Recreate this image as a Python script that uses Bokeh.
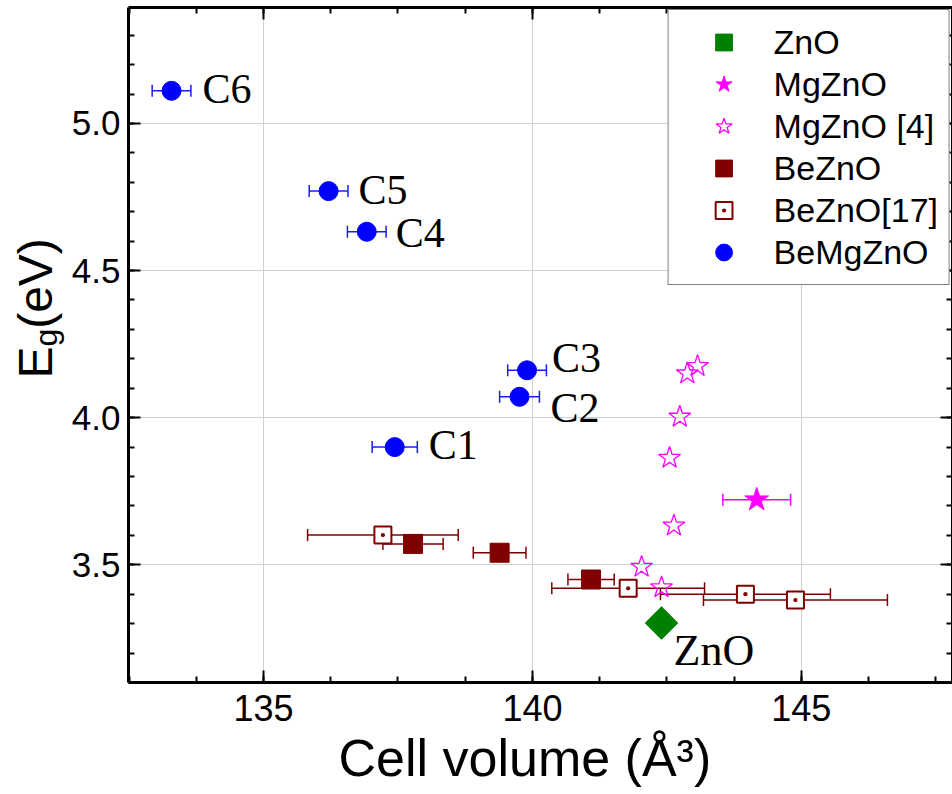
import numpy as np
from bokeh.plotting import figure
from bokeh.layouts import row
from bokeh.models import (ColumnDataSource, Whisker, TeeHead, Label, Legend, LegendItem, Title,
                          LinearAxis, SingleIntervalTicker, NumeralTickFormatter, Range1d)
from bokeh.embed import file_html
from bokeh.resources import INLINE

# ---------------- data ----------------
zno_vol = [142.40]
zno_eg = [3.302]

mgzno_vol = [144.17]
mgzno_eg = [3.721]
mgzno_err = [0.63]

mgzno4_vol = [143.07, 142.88, 142.74, 142.55, 142.63, 142.03, 142.40]
mgzno4_eg = [4.175, 4.150, 4.003, 3.863, 3.633, 3.493, 3.423]

bezno_vol = [137.78, 139.39, 141.09]
bezno_eg = [3.571, 3.541, 3.450]
bezno_err = [0.56, 0.49, 0.43]

bezno17_vol = [137.22, 141.78, 143.96, 144.89]
bezno17_eg = [3.601, 3.420, 3.400, 3.380]
bezno17_err = [1.40, 1.42, 1.58, 1.71]

bemgzno_names = ["C1", "C2", "C3", "C4", "C5", "C6"]
bemgzno_vol = [137.44, 139.76, 139.90, 136.92, 136.21, 133.29]
bemgzno_eg = [3.900, 4.071, 4.161, 4.632, 4.770, 5.111]
bemgzno_err = [0.42, 0.37, 0.36, 0.36, 0.36, 0.36]

legend_labels = ["ZnO", "MgZnO", "MgZnO [4]", "BeZnO", "BeZnO[17]", "BeMgZnO"]
x_label = "Cell volume (Å³)"

# label offsets (pixels) for the sample names: (dx right, dy up)
name_offsets = {"C1": (34, 2), "C2": (31, -11), "C3": (25, 12),
                "C4": (29, -1), "C5": (30, 1), "C6": (31, 2)}
zno_offset = (12, -27)

# ---------------- main figure ----------------
p = figure(width=884, height=794, title=None,
           x_range=Range1d(132.49, 147.81), y_range=Range1d(3.1, 5.394),
           output_backend="svg", toolbar_location=None,
           min_border_left=60, min_border_right=0, min_border_top=7, min_border_bottom=112)
p.outline_line_color = None
p.background_fill_color = "white"
p.border_fill_color = "white"

x_ticker = SingleIntervalTicker(interval=5, num_minor_ticks=4)
y_ticker = SingleIntervalTicker(interval=0.5, num_minor_ticks=5)

top_axis = LinearAxis()
right_axis = LinearAxis()
p.add_layout(top_axis, "above")
p.add_layout(right_axis, "right")
bottom_axis = p.below[0]
left_axis = p.left[0]

for ax in [top_axis, right_axis, bottom_axis, left_axis]:
    ax.axis_line_color = "black"
    ax.axis_line_width = 3
    ax.major_tick_in = 12
    ax.major_tick_out = 0
    ax.minor_tick_in = 6
    ax.minor_tick_out = 0
    ax.major_tick_line_color = "black"
    ax.minor_tick_line_color = "black"
    ax.major_tick_line_width = 2
    ax.minor_tick_line_width = 2
    ax.major_label_text_font = "Liberation Sans"
    ax.major_label_text_color = "black"

for ax in [bottom_axis, top_axis]:
    ax.ticker = x_ticker
for ax in [left_axis, right_axis]:
    ax.ticker = y_ticker
    ax.formatter = NumeralTickFormatter(format="0.0")

for ax in [top_axis, right_axis]:
    ax.major_label_text_font_size = "1px"
    ax.major_label_text_color = None
    ax.major_label_standoff = 0

bottom_axis.major_label_text_font_size = "36px"
bottom_axis.major_label_standoff = 12
left_axis.major_label_text_font_size = "35px"
left_axis.major_label_standoff = 8

p.xgrid.ticker = x_ticker
p.ygrid.ticker = y_ticker
p.grid.grid_line_color = "#cfcfcf"
p.grid.grid_line_width = 1

# x axis title, placed in the panel below the axis
p.add_layout(Title(text=x_label, align="left", offset=210, vertical_align="top", standoff=11,
                   text_font="Liberation Sans", text_font_size="52px",
                   text_font_style="normal", text_color="black"), "below")

# ---------------- error bars ----------------
def add_err(xs, ys, errs, color):
    xs = np.array(xs)
    errs = np.array(errs)
    src = ColumnDataSource(dict(base=ys, lower=xs - errs, upper=xs + errs))
    w = Whisker(source=src, base="base", lower="lower", upper="upper", dimension="width",
                line_color=color, line_width=1.5,
                upper_head=TeeHead(size=12, line_color=color, line_width=1.5),
                lower_head=TeeHead(size=12, line_color=color, line_width=1.5))
    p.add_layout(w)

add_err(bezno17_vol, bezno17_eg, bezno17_err, "#800000")
add_err(bezno_vol, bezno_eg, bezno_err, "#800000")
add_err(mgzno_vol, mgzno_eg, mgzno_err, "#FF00FF")
add_err(bemgzno_vol, bemgzno_eg, bemgzno_err, "#1a1aff")

# ---------------- markers ----------------
r_zno = p.scatter(zno_vol, zno_eg, marker="square", size=23, angle=np.pi / 4,
                  fill_color="#008000", line_color="#008000")
r_mg = p.scatter(mgzno_vol, mgzno_eg, marker="star", size=25,
                 fill_color="#FF00FF", line_color="#FF00FF")
r_mg4 = p.scatter(mgzno4_vol, mgzno4_eg, marker="star", size=23,
                  fill_color=None, line_color="#FF00FF", line_width=1.3)
r_be = p.scatter(bezno_vol, bezno_eg, marker="square", size=19,
                 fill_color="#800000", line_color="#800000")
r_be17 = p.scatter(bezno17_vol, bezno17_eg, marker="square_dot", size=17,
                   fill_color="white", line_color="#800000", line_width=2)
r_bmg = p.scatter(bemgzno_vol, bemgzno_eg, marker="circle", size=19,
                  fill_color="#0000FF", line_color="#0000FF")

# ---------------- point labels ----------------
for name, xv, yv in zip(bemgzno_names, bemgzno_vol, bemgzno_eg):
    dx, dy = name_offsets[name]
    p.add_layout(Label(x=xv, y=yv, text=name, x_offset=dx, y_offset=dy,
                       text_font="Liberation Serif", text_font_size="42px",
                       text_color="black", text_baseline="alphabetic", text_align="left"))
p.add_layout(Label(x=zno_vol[0], y=zno_eg[0], text="ZnO",
                   x_offset=zno_offset[0], y_offset=zno_offset[1],
                   text_font="Liberation Serif", text_font_size="44px",
                   text_color="black", text_baseline="alphabetic", text_align="left"))

# ---------------- legend ----------------
legend = Legend(items=[LegendItem(label=lab, renderers=[r]) for lab, r in
                       zip(legend_labels, [r_zno, r_mg, r_mg4, r_be, r_be17, r_bmg])],
                location="top_right", label_text_font="Liberation Sans",
                label_text_font_size="34px", label_text_color="black",
                glyph_width=88, glyph_height=42, spacing=0, padding=11, margin=2,
                label_standoff=6, border_line_color="black", border_line_width=1.5,
                background_fill_color="white", background_fill_alpha=1.0)
p.add_layout(legend)

# ---------------- y axis title strip (pixel coordinates, centre anchored) ----------------
ylab = figure(width=68, height=794, title=None, x_range=Range1d(0, 68), y_range=Range1d(0, 794),
              output_backend="svg", toolbar_location=None, min_border=0,
              x_axis_location=None, y_axis_location=None)
if "frame_align" in type(ylab).properties():
    # keep this strip's frame equal to its own canvas, not aligned to the main plot
    ylab.frame_align = False
    p.frame_align = False
else:
    # frames are aligned to the main plot's frame (top 9 px, bottom 682 px)
    ylab.y_range = Range1d(794 - 682, 794 - 9)
ylab.grid.visible = False
ylab.outline_line_color = None
ylab.background_fill_color = "white"
ylab.border_fill_color = "white"
for txt, cx, cy, fs in [("E", 35, 432, "48px"), ("g", 45, 457, "32px"), ("(eV)", 35, 511, "48px")]:
    ylab.add_layout(Label(x=cx, y=cy, text=txt, angle=np.pi / 2,
                          text_font="Liberation Sans", text_font_size=fs, text_color="black",
                          text_baseline="middle", text_align="center"))

layout = row(ylab, p)
open("out.html", "w").write(file_html(layout, INLINE))
